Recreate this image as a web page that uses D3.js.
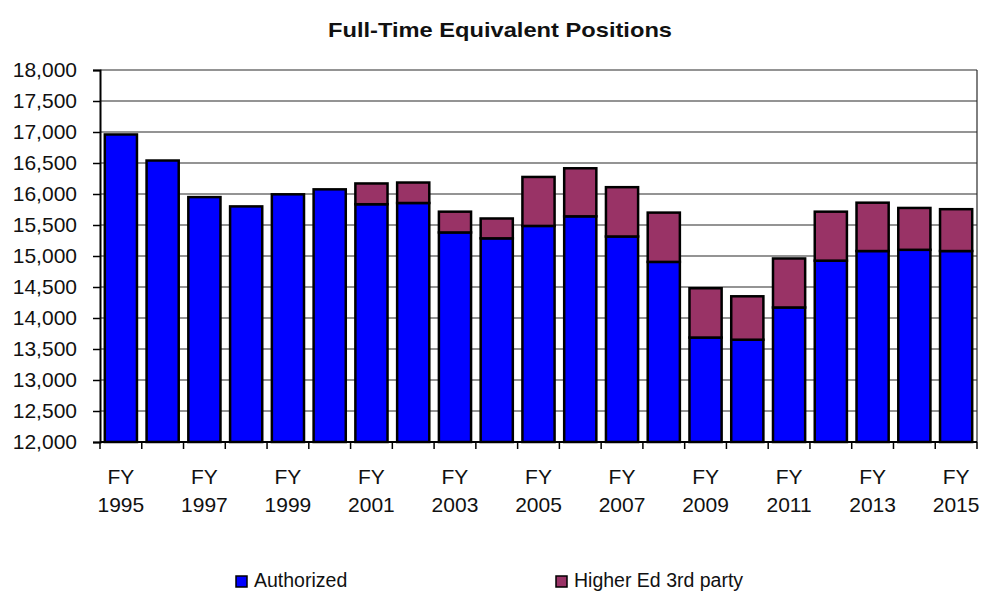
<!DOCTYPE html>
<html>
<head>
<meta charset="utf-8">
<script src="https://cdn.jsdelivr.net/npm/d3@7"></script>
<style>
  body { margin: 0; background: #fff; }
  text { font-family: "Liberation Sans", Arial, sans-serif; fill: #111; }
</style>
</head>
<body>
<script>
// chart data
var years = d3.range(1995, 2016);
var authorized = [16960, 16540, 15950, 15800, 15995, 16075, 15835, 15855, 15380, 15285,
                  15485, 15640, 15315, 14905, 13685, 13650, 14170, 14925, 15080, 15100, 15080];
var higherEd = [0, 0, 0, 0, 0, 0, 335, 330, 335, 320,
                790, 775, 795, 795, 795, 700, 790, 790, 780, 675, 675];
var yTicks = d3.range(12000, 18001, 500);
var seriesNames = ["Authorized", "Higher Ed 3rd party"];
var colors = ["#0000ff", "#993366"];

var width = 982, height = 592;
var plotLeft = 100, plotRight = 977, plotTop = 70, plotBottom = 442;

var svg = d3.select("body").append("svg")
    .attr("width", width)
    .attr("height", height);

var x = d3.scaleBand()
    .domain(years)
    .range([plotLeft, plotRight])
    .paddingInner(0.23)
    .paddingOuter(0.115);

var y = d3.scaleLinear()
    .domain([12000, 18000])
    .range([plotBottom, plotTop]);

// title
svg.append("text")
    .attr("x", 500)
    .attr("y", 37)
    .attr("text-anchor", "middle")
    .attr("font-weight", "bold")
    .attr("font-size", 21)
    .attr("textLength", 344)
    .attr("lengthAdjust", "spacingAndGlyphs")
    .text("Full-Time Equivalent Positions");

// gridlines
svg.append("g")
    .selectAll("line")
    .data(yTicks)
    .enter().append("line")
    .attr("x1", plotLeft)
    .attr("x2", plotRight)
    .attr("y1", function(d) { return y(d); })
    .attr("y2", function(d) { return y(d); })
    .attr("stroke", "#2a2a2a")
    .attr("stroke-width", 1.2);

// right border
svg.append("line")
    .attr("x1", plotRight).attr("x2", plotRight)
    .attr("y1", plotTop).attr("y2", plotBottom)
    .attr("stroke", "#2a2a2a").attr("stroke-width", 1.2);

// stacked bars
var stackData = years.map(function(yr, i) {
    return { year: yr, a: authorized[i], h: higherEd[i] };
});
var stack = d3.stack().keys(["a", "h"]);
var layers = stack(stackData);

svg.append("g")
    .selectAll("g")
    .data(layers)
    .enter().append("g")
    .attr("fill", function(d, i) { return colors[i]; })
    .selectAll("rect")
    .data(function(d) { return d.filter(function(p) { return p[1] > p[0]; }); })
    .enter().append("rect")
    .attr("x", function(d) { return x(d.data.year); })
    .attr("width", x.bandwidth())
    .attr("y", function(d) { return y(Math.max(d[1], 12000)); })
    .attr("height", function(d) { return y(Math.max(d[0], 12000)) - y(d[1]); })
    .attr("stroke", "#000")
    .attr("stroke-width", 2.5);

// y axis
var yAxis = svg.append("g")
    .attr("transform", "translate(" + plotLeft + ",0)")
    .call(d3.axisLeft(y).tickValues(yTicks).tickSize(7).tickPadding(16)
        .tickFormat(d3.format(",")));
yAxis.select(".domain").attr("stroke", "#000").attr("stroke-width", 2);
yAxis.selectAll(".tick line").attr("stroke", "#000").attr("stroke-width", 1.5);
yAxis.selectAll("text").attr("font-size", 21).attr("fill", "#111")
    .attr("font-family", "Liberation Sans, Arial, sans-serif");

// x axis: ticks at band boundaries
var step = x.step();
var boundaries = d3.range(years.length + 1).map(function(i) { return plotLeft + i * step; });
svg.append("line")
    .attr("x1", plotLeft).attr("x2", plotRight)
    .attr("y1", plotBottom).attr("y2", plotBottom)
    .attr("stroke", "#000").attr("stroke-width", 2);
svg.append("g")
    .selectAll("line")
    .data(boundaries)
    .enter().append("line")
    .attr("x1", function(d) { return d; })
    .attr("x2", function(d) { return d; })
    .attr("y1", plotBottom)
    .attr("y2", plotBottom + 7)
    .attr("stroke", "#000")
    .attr("stroke-width", 1.5);

var labelled = years.filter(function(d, i) { return i % 2 === 0; });
var xl = svg.append("g")
    .selectAll("text")
    .data(labelled)
    .enter().append("text")
    .attr("text-anchor", "middle")
    .attr("font-size", 21);
xl.append("tspan")
    .attr("x", function(d) { return x(d) + x.bandwidth() / 2; })
    .attr("y", 484)
    .text("FY");
xl.append("tspan")
    .attr("x", function(d) { return x(d) + x.bandwidth() / 2; })
    .attr("y", 512)
    .text(function(d) { return d; });

// legend
var legendX = [236, 556];
var legend = svg.append("g")
    .selectAll("g")
    .data(seriesNames)
    .enter().append("g")
    .attr("transform", function(d, i) { return "translate(" + legendX[i] + ",576)"; });
legend.append("rect")
    .attr("width", 11)
    .attr("height", 11)
    .attr("fill", function(d, i) { return colors[i]; })
    .attr("stroke", "#000")
    .attr("stroke-width", 1.5);
legend.append("text")
    .attr("x", 18)
    .attr("y", 11)
    .attr("font-size", 19.5)
    .text(function(d) { return d; });
</script>
</body>
</html>
